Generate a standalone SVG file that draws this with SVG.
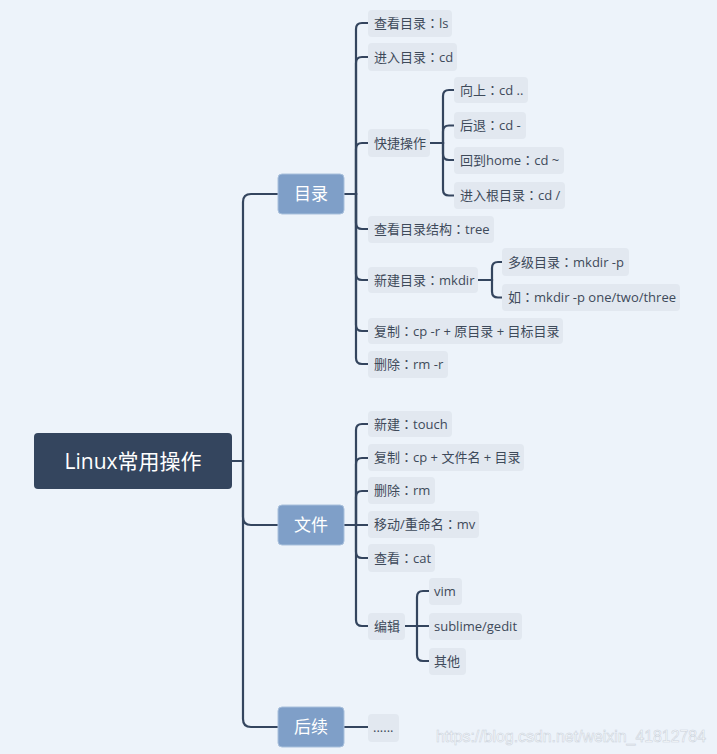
<svg xmlns="http://www.w3.org/2000/svg" width="717" height="754" viewBox="0 0 717 754">
<style>
.bg{fill:#EDF3FA}
.leaf{fill:#E2E8F0}
.lt{font-family:"Open Sans","Noto Sans CJK SC",sans-serif;font-size:13px;fill:#3E4A5A}
.co{font-family:"Noto Sans CJK TC","Noto Sans CJK JP",sans-serif}
.br{fill:#7F9FC8;stroke:#A9C0DC;stroke-width:1}
.bt{font-family:"Open Sans","Noto Sans CJK SC",sans-serif;font-size:17px;fill:#FFFFFF;text-anchor:middle}
.rt{font-family:"Open Sans","Noto Sans CJK SC",sans-serif;font-size:21px;fill:#FFFFFF;text-anchor:middle}
.c path{fill:none;stroke:#34455E;stroke-width:2.2;stroke-linecap:round}
.wm{font-family:"Liberation Sans",Arial,sans-serif;font-size:17px;fill:#FFFFFF;stroke:#C8D0DA;stroke-width:0.6;opacity:0.9}
</style>
<rect class="bg" x="0" y="0" width="717" height="754"/>
<g class="c" id="connectors">
<path d="M232,461 H243 V202 Q243,194 251,194 H278"/>
<path d="M232,461 H243 V517 Q243,525 251,525 H278"/>
<path d="M232,461 H243 V719 Q243,727 251,727 H278"/>
<path d="M344,194 H356 V29 Q356,23 362,23 H368"/>
<path d="M344,194 H356 V63 Q356,57 362,57 H368"/>
<path d="M344,194 H356 V149 Q356,143 362,143 H368"/>
<path d="M344,194 H356 V223 Q356,229 362,229 H368"/>
<path d="M344,194 H356 V274 Q356,280 362,280 H368"/>
<path d="M344,194 H356 V325 Q356,331 362,331 H368"/>
<path d="M344,194 H356 V358 Q356,364 362,364 H368"/>
<path d="M430,143 H443 V96 Q443,90 449,90 H454"/>
<path d="M430,143 H443 V131.5 Q443,125.5 449,125.5 H454"/>
<path d="M430,143 H443 V154 Q443,160 449,160 H454"/>
<path d="M430,143 H443 V189.5 Q443,195.5 449,195.5 H454"/>
<path d="M478,280 H492 V268 Q492,262 498,262 H502"/>
<path d="M478,280 H492 V291.5 Q492,297.5 498,297.5 H502"/>
<path d="M344,525 H356 V430 Q356,424 362,424 H368"/>
<path d="M344,525 H356 V464 Q356,458 362,458 H368"/>
<path d="M344,525 H356 V497 Q356,491 362,491 H368"/>
<path d="M344,525 H368"/>
<path d="M344,525 H356 V552 Q356,558 362,558 H368"/>
<path d="M344,525 H356 V620 Q356,626 362,626 H368"/>
<path d="M405,626 H417 V597 Q417,591 423,591 H429"/>
<path d="M405,626 H429"/>
<path d="M405,626 H417 V655 Q417,661 423,661 H429"/>
<path d="M344,727 H368"/>
</g>
<g id="root"><rect x="34" y="433" width="198" height="56" rx="4" fill="#34455E"/><text class="rt" x="133" y="468.5">Linux常用操作</text></g>
<g id="mulu"><rect class="br" x="278" y="174" width="66" height="40" rx="4"/><text class="bt" x="311" y="200">目录</text></g>
<g id="wenjian"><rect class="br" x="278" y="505" width="66" height="40" rx="4"/><text class="bt" x="311" y="531">文件</text></g>
<g id="houxu"><rect class="br" x="278" y="707" width="66" height="40" rx="4"/><text class="bt" x="311" y="733">后续</text></g>
<g id="n1"><rect class="leaf" x="368" y="10" width="84" height="27" rx="4"/><text class="lt" x="374" y="28">查看目录<tspan class="co">：</tspan>ls</text></g>
<g id="n2"><rect class="leaf" x="368" y="43" width="89" height="28" rx="4"/><text class="lt" x="374" y="61.5">进入目录<tspan class="co">：</tspan>cd</text></g>
<g id="n3"><rect class="leaf" x="368" y="129" width="62" height="28" rx="4"/><text class="lt" x="374" y="147.5">快捷操作</text></g>
<g id="n3a"><rect class="leaf" x="454" y="77" width="74" height="26" rx="4"/><text class="lt" x="460" y="94.5">向上<tspan class="co">：</tspan>cd ..</text></g>
<g id="n3b"><rect class="leaf" x="454" y="112" width="72" height="27" rx="4"/><text class="lt" x="460" y="130">后退<tspan class="co">：</tspan>cd -</text></g>
<g id="n3c"><rect class="leaf" x="454" y="147" width="110" height="27" rx="4"/><text class="lt" x="460" y="165">回到home<tspan class="co">：</tspan>cd ~</text></g>
<g id="n3d"><rect class="leaf" x="454" y="182" width="111" height="27" rx="4"/><text class="lt" x="460" y="200">进入根目录<tspan class="co">：</tspan>cd /</text></g>
<g id="n4"><rect class="leaf" x="368" y="216" width="126" height="27" rx="4"/><text class="lt" x="374" y="234">查看目录结构<tspan class="co">：</tspan>tree</text></g>
<g id="n5"><rect class="leaf" x="368" y="267" width="110" height="26" rx="4"/><text class="lt" x="374" y="284.5">新建目录<tspan class="co">：</tspan>mkdir</text></g>
<g id="n5a"><rect class="leaf" x="502" y="248" width="127" height="28" rx="4"/><text class="lt" x="508" y="266.5">多级目录<tspan class="co">：</tspan>mkdir -p</text></g>
<g id="n5b"><rect class="leaf" x="502" y="284" width="178" height="27" rx="4"/><text class="lt" x="508" y="302">如<tspan class="co">：</tspan>mkdir -p one/two/three</text></g>
<g id="n6"><rect class="leaf" x="368" y="318" width="195" height="26" rx="4"/><text class="lt" x="374" y="335.5">复制<tspan class="co">：</tspan>cp -r + 原目录 + 目标目录</text></g>
<g id="n7"><rect class="leaf" x="368" y="351" width="80" height="27" rx="4"/><text class="lt" x="374" y="369">删除<tspan class="co">：</tspan>rm -r</text></g>
<g id="f1"><rect class="leaf" x="368" y="411" width="84" height="26" rx="4"/><text class="lt" x="374" y="428.5">新建<tspan class="co">：</tspan>touch</text></g>
<g id="f2"><rect class="leaf" x="368" y="444" width="156" height="27" rx="4"/><text class="lt" x="374" y="462">复制<tspan class="co">：</tspan>cp + 文件名 + 目录</text></g>
<g id="f3"><rect class="leaf" x="368" y="477" width="67" height="27" rx="4"/><text class="lt" x="374" y="495">删除<tspan class="co">：</tspan>rm</text></g>
<g id="f4"><rect class="leaf" x="368" y="511" width="111" height="27" rx="4"/><text class="lt" x="374" y="529">移动/重命名<tspan class="co">：</tspan>mv</text></g>
<g id="f5"><rect class="leaf" x="368" y="544" width="67" height="28" rx="4"/><text class="lt" x="374" y="562.5">查看<tspan class="co">：</tspan>cat</text></g>
<g id="f6"><rect class="leaf" x="368" y="613" width="37" height="27" rx="4"/><text class="lt" x="374" y="631">编辑</text></g>
<g id="f6a"><rect class="leaf" x="429" y="578" width="33" height="27" rx="4"/><text class="lt" x="434" y="596">vim</text></g>
<g id="f6b"><rect class="leaf" x="429" y="613" width="93" height="27" rx="4"/><text class="lt" x="434" y="631">sublime/gedit</text></g>
<g id="f6c"><rect class="leaf" x="429" y="648" width="37" height="27" rx="4"/><text class="lt" x="434" y="666">其他</text></g>
<g id="h1"><rect class="leaf" x="368" y="714" width="31" height="28" rx="4"/><text class="lt" x="373" y="732">......</text></g>
<text class="wm" x="436" y="742" textLength="270" lengthAdjust="spacingAndGlyphs">https://blog.csdn.net/weixin_41812784</text>
</svg>
